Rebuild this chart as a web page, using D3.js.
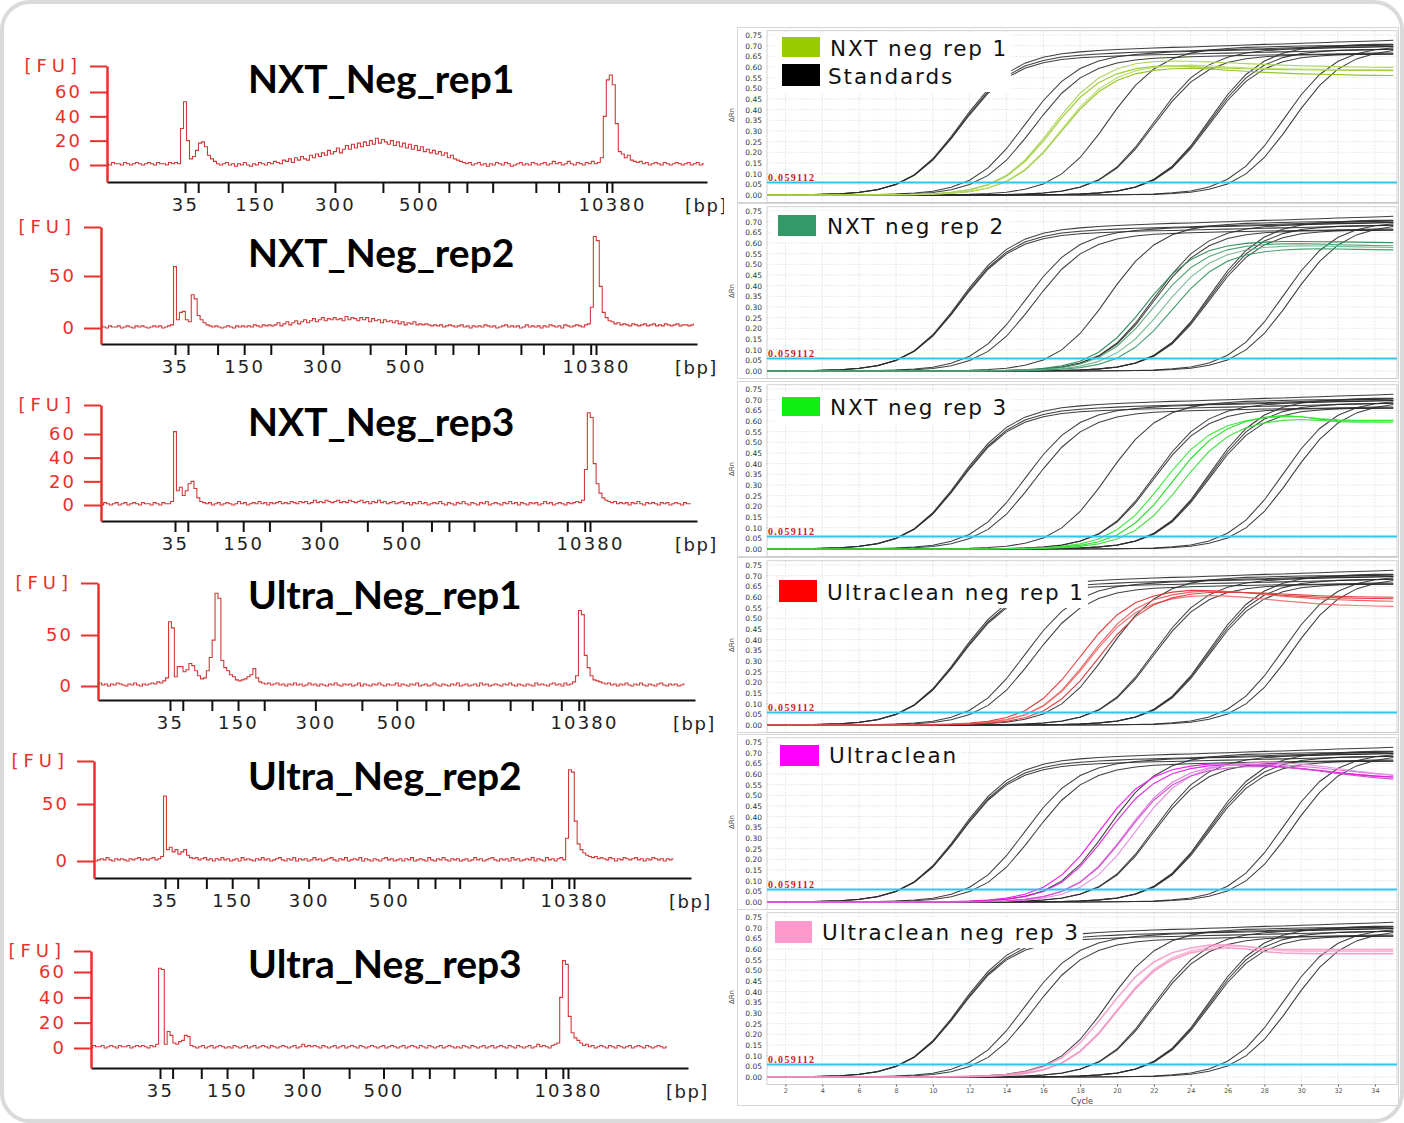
<!DOCTYPE html>
<html>
<head>
<meta charset="utf-8">
<script src="https://cdn.jsdelivr.net/npm/d3@7"></script>
<style>
  html, body { margin: 0; padding: 0; background: #fff; }
  svg { display: block; }
</style>
</head>
<body>
<svg id="fig" width="1404" height="1123"></svg>
<script>
// ---------------------------------------------------------------------------
// Bioanalyzer electropherograms (left column)
// ---------------------------------------------------------------------------
const epTitles = ["NXT_Neg_rep1", "NXT_Neg_rep2", "NXT_Neg_rep3",
                  "Ultra_Neg_rep1", "Ultra_Neg_rep2", "Ultra_Neg_rep3"];

// Ladder peaks: migration time (s) and the size labels printed under them
const ladderTimes  = [33.0, 35.2, 40.2, 44.7, 49.2, 58.0, 66.0, 72.0, 77.0, 80.0, 84.3, 91.5, 95.3, 100.3, 103.3, 104.2];
const ladderLabels = ["35", "", "", "150", "", "300", "", "500", "", "", "", "", "", "", "", "10380"];

// FU tick values of each electropherogram
const fuTicks = [[0, 20, 40, 60], [0, 50], [0, 20, 40, 60], [0, 50], [0, 50], [0, 20, 40, 60]];

// Fluorescence traces (FU), one sample every 0.5 s starting at 20 s
const traceStart = 20, traceStep = 0.5;
const traceNXT1 = [
  1,0,2,1,1,0,2,1,0,1, 2,1,0,1,2,1,0,2,1,1, 0,2,1,2,1,30,52,20,5,7, 12,18,19,15,8,5,3,1,0,1,
  2,0,1,-1,1,0,2,0,-1,1, 0,2,1,0,2,1,3,2,1,4, 3,5,2,6,4,7,5,4,8,6, 9,7,10,8,12,9,11,14,10,13,
  16,13,17,14,18,15,19,16,20,17, 22,18,21,19,17,20,16,19,15,18, 14,17,13,16,12,15,11,13,10,12, 9,11,8,10,6,8,5,4,3,2,
  1,2,0,1,2,0,1,-1,1,0, 2,1,0,2,1,-1,0,1,2,0, 1,0,2,1,0,1,2,0,1,3, 1,2,0,1,3,1,0,2,1,0,
  2,1,3,1,2,6,40,70,74,66, 34,11,9,6,8,4,3,2,3,1, 2,0,1,2,1,0,2,1,0,1, 2,1,0,1,2,0,1,2,0,1, 2,1,0,1];
const traceNXT2 = [
  1,2,1,0,2,1,1,2,0,1, 2,1,0,2,1,2,1,0,1,2, 1,2,0,1,2,3,59,8,15,16, 8,6,32,28,12,8,5,3,2,1,
  2,1,0,1,2,1,0,2,1,2, 1,2,1,3,2,1,3,2,3,2, 3,5,2,4,6,3,5,7,4,6, 8,5,7,9,6,8,10,7,9,8,
  10,8,9,7,11,8,10,9,7,10, 8,10,6,9,7,8,5,8,6,7, 5,7,4,6,3,5,4,6,3,4, 3,4,3,2,3,2,3,1,2,3,
  2,1,2,3,1,2,0,2,1,2, 1,3,2,1,2,0,1,2,3,1, 2,1,2,0,1,3,1,2,1,2, 0,2,1,3,2,1,2,0,3,2,
  1,2,3,2,1,3,4,20,88,84, 40,15,10,7,6,4,5,3,4,3, 2,4,3,2,3,4,2,3,4,2, 3,2,4,3,2,3,4,2,3,3, 2,3,4,2];
const traceNXT3 = [
  1,0,2,1,0,1,2,0,1,2, 0,1,2,1,0,2,1,1,0,2, 1,0,2,1,1,3,62,12,15,8, 12,18,20,14,6,3,2,1,2,0,
  1,2,0,1,2,1,0,1,3,1, 2,0,1,2,1,3,1,2,0,2, 1,2,3,1,2,1,3,2,1,3, 2,3,1,2,4,2,3,2,4,3,
  2,3,4,2,3,2,4,3,2,3, 4,2,3,1,3,2,4,2,3,1, 2,3,1,2,3,1,2,0,2,1, 3,1,2,0,1,2,1,3,1,0,
  2,1,0,2,1,3,1,0,2,1, 0,2,1,3,0,1,2,1,0,2, 1,3,1,2,0,2,1,0,2,1, 2,0,1,3,1,2,0,1,2,1,
  0,2,1,2,3,2,4,30,78,74, 35,18,10,6,4,3,2,3,1,2, 1,2,0,2,1,3,1,0,2,1, 2,1,0,2,1,2,0,1,2,1, 0,2,1,1];
const traceUltra1 = [
  2,1,3,1,2,0,2,1,3,2, 1,0,2,1,3,1,0,2,1,2, 3,2,4,3,5,8,63,57,9,19, 19,14,16,22,20,15,10,7,8,15,
  28,45,91,86,25,18,15,11,9,6, 5,6,7,9,11,17,8,4,3,2, 3,1,2,3,1,2,0,2,1,3, 1,2,0,1,3,1,2,0,2,1,
  0,2,1,3,1,0,2,1,2,0, 1,3,0,2,1,0,2,1,3,1, 0,2,1,1,3,0,2,1,0,2, 1,3,0,1,2,0,1,3,1,0,
  2,1,0,2,1,3,0,1,2,0, 1,2,0,3,1,2,0,1,2,1, 0,2,1,3,1,0,2,1,0,2, 1,0,3,1,2,1,0,2,3,1,
  2,0,3,1,2,4,10,74,70,30, 18,10,6,5,4,3,2,3,1,2, 0,2,1,3,1,0,2,1,3,1, 0,2,1,0,2,3,1,0,2,1, 2,0,1,2];
const traceUltra2 = [
  1,2,0,1,2,1,3,1,0,2, 1,2,1,0,2,1,2,3,1,2, 1,2,3,1,2,4,57,10,12,8, 10,6,8,10,5,3,2,3,1,2,
  3,1,2,0,2,1,3,1,2,0, 1,2,0,3,1,2,1,0,2,1, 3,1,2,0,1,2,3,1,0,2, 1,3,0,2,1,2,0,1,3,1,
  2,0,1,2,3,1,0,2,1,3, 0,1,2,1,3,0,2,1,0,2, 1,0,2,3,1,2,0,1,2,0, 2,1,3,0,1,2,1,0,3,1,
  0,2,1,3,1,0,2,1,2,0, 1,2,0,1,3,1,2,0,1,2, 3,1,0,2,1,2,0,3,1,2, 0,1,2,1,3,0,2,1,0,3,
  1,2,0,2,3,1,20,80,78,35, 15,10,7,5,4,3,4,2,3,2, 1,3,2,0,2,1,3,2,1,2, 3,1,2,0,2,1,3,2,1,2, 0,2,1,2];
const traceUltra3 = [
  2,1,0,2,1,1,2,0,1,2, 1,0,2,1,1,2,0,1,2,1, 2,1,0,2,1,3,63,62,3,13, 10,4,3,5,6,10,9,2,1,0,
  1,2,0,1,2,0,1,2,1,0, 1,0,2,1,0,1,2,0,1,2, 0,1,2,1,0,2,1,0,1,2, 1,0,1,2,0,1,3,1,2,1,
  2,1,0,2,1,0,1,2,0,1, 2,0,1,2,1,0,2,1,0,1, 2,1,0,1,2,0,1,2,1,0, 1,2,0,1,2,1,0,2,1,0,
  2,1,0,1,2,0,1,2,1,0, 1,0,2,1,0,2,1,0,1,2, 0,1,2,0,1,2,1,0,2,1, 0,2,1,0,1,2,0,1,3,1,
  2,1,0,2,3,4,40,69,66,25, 12,8,6,4,2,3,1,2,0,1, 2,1,0,2,1,0,2,1,0,1, 2,0,1,2,1,0,2,1,0,1, 2,1,0,1];
const epTraces = [traceNXT1, traceNXT2, traceNXT3, traceUltra1, traceUltra2, traceUltra3];

// ---------------------------------------------------------------------------
// qPCR amplification plots (right column); ΔRn values in thousandths, cycles 1-35
// ---------------------------------------------------------------------------
const cycles = [1,2,3,4,5,6,7,8,9,10,11,12,13,14,15,16,17,18,19,20,21,22,23,24,25,26,27,28,29,30,31,32,33,34,35];
const rnTicks = [0, 0.05, 0.10, 0.15, 0.20, 0.25, 0.30, 0.35, 0.40, 0.45, 0.50, 0.55, 0.60, 0.65, 0.70, 0.75];
const cycleTicks = [2, 4, 6, 8, 10, 12, 14, 16, 18, 20, 22, 24, 26, 28, 30, 32, 34];
const threshold = 0.059112;

// Standard dilution series (same plate standards shown in every plot)
const standards = [
  [0,1,1,3,6,13,25,49,93,166,268,382,484,557,605,631,647,655,661,665,669,671,674,676,679,681,684,686,689,691,694,696,699,701,704],
  [0,1,2,3,6,13,26,50,95,170,274,391,495,570,618,646,662,671,677,682,686,689,692,694,697,700,703,706,708,711,714,717,720,722,725],
  [0,1,1,3,6,12,25,49,92,163,264,376,477,549,594,620,635,643,648,652,655,657,659,661,663,665,667,669,671,673,675,677,679,681,683],
  [0,0,0,0,1,1,2,4,9,18,36,69,127,217,330,443,533,593,628,648,659,665,670,673,676,678,680,682,684,686,688,690,692,694,696],
  [0,0,0,0,0,1,1,3,6,12,25,49,92,163,264,376,477,549,593,619,633,641,645,648,650,653,654,656,657,659,660,662,663,665,666],
  [0,0,0,0,0,0,0,0,0,1,2,3,7,13,27,52,99,176,284,406,514,591,639,665,680,687,692,694,696,698,699,700,701,702,703],
  [0,0,0,0,0,0,0,0,0,0,0,1,1,2,5,9,19,37,71,131,224,340,456,549,610,646,666,676,682,687,689,691,693,695,696],
  [0,0,0,0,0,0,0,0,0,0,0,1,1,2,4,9,18,36,69,126,215,328,440,529,587,621,639,648,653,656,657,658,659,659,660],
  [0,0,0,0,0,0,0,0,0,0,0,0,0,0,1,1,2,5,10,19,38,74,135,230,350,470,565,628,664,684,694,700,704,706,707],
  [0,0,0,0,0,0,0,0,0,0,0,0,0,0,1,1,2,5,9,19,37,71,131,224,340,456,549,609,644,663,672,678,681,682,683],
  [0,0,0,0,0,0,0,0,0,0,0,0,0,0,1,1,2,4,9,18,36,69,127,217,330,443,533,591,625,643,652,657,660,661,661],
  [0,0,0,0,0,0,0,0,0,0,0,0,0,0,0,0,0,0,1,1,2,5,10,19,38,74,135,230,350,470,565,627,662,681,690],
  [0,0,0,0,0,0,0,0,0,0,0,0,0,0,0,0,0,0,0,1,2,3,7,13,27,52,99,176,284,406,514,591,638,663,677]
];

// Negative-control library replicates, one group per plot
const nxtRep1 = [
  [0,0,0,0,0,0,1,1,3,6,12,24,47,88,157,253,362,458,526,568,591,603,605,602,598,595,592,590,588,587,586,585,584,584,583],
  [0,0,0,0,0,0,1,1,3,6,12,25,49,92,163,264,376,477,548,591,615,625,628,627,624,620,616,612,609,606,604,602,600,599,598],
  [0,0,0,0,0,0,0,1,2,4,8,16,33,63,116,197,300,403,484,537,568,584,592,594,591,585,580,575,571,568,566,564,562,561,560],
  [0,0,0,0,0,0,0,1,2,4,8,17,33,65,119,202,308,413,496,550,582,598,606,609,606,600,596,593,591,590,589,588,588,587,587]
];
const nxtRep2 = [
  [0,0,0,0,0,0,0,0,0,0,0,1,1,3,6,12,24,46,88,156,251,359,454,522,564,586,598,604,607,607,606,605,604,603,602],
  [0,0,0,0,0,0,0,0,0,0,0,0,1,2,4,8,16,33,63,116,197,300,403,484,537,568,584,592,596,597,595,592,590,588,587],
  [0,0,0,0,0,0,0,0,0,0,0,0,1,1,3,6,11,23,45,85,150,243,347,440,505,545,567,579,584,587,586,584,582,580,579],
  [0,0,0,0,0,0,0,0,0,0,0,0,0,1,2,4,8,16,31,60,111,189,288,386,464,515,544,559,567,571,573,572,570,569,568]
];
const nxtRep3 = [
  [0,0,0,0,0,0,0,0,0,0,0,0,0,1,2,4,9,17,34,66,122,207,315,423,508,564,598,617,625,620,608,602,600,600,601],
  [0,0,0,0,0,0,0,0,0,0,0,0,1,1,3,6,12,24,47,90,159,258,368,466,535,578,601,615,622,620,611,605,603,603,603],
  [0,0,0,0,0,0,0,0,0,0,0,0,0,1,1,3,6,12,24,47,88,157,253,362,458,526,568,591,603,607,603,597,595,594,594]
];
const ultraRep1 = [
  [0,0,0,0,0,0,0,0,1,2,4,9,17,35,67,124,211,320,429,516,573,605,623,631,630,626,620,614,608,603,599,596,594,593,592],
  [0,0,0,0,0,0,0,0,1,1,3,6,12,25,48,91,162,262,373,473,544,587,610,623,628,626,620,612,604,597,591,587,584,582,580],
  [0,0,0,0,0,0,0,0,0,1,3,6,12,24,47,88,157,253,362,458,526,568,591,603,607,604,598,590,582,575,568,563,560,558,556],
  [0,0,0,0,0,0,0,0,0,1,2,4,9,17,34,66,122,207,315,423,508,564,596,613,621,623,621,618,614,610,606,603,601,600,599]
];
const ultraRep2 = [
  [0,0,0,0,0,0,0,0,0,1,2,4,9,18,36,69,126,215,328,440,529,586,620,637,646,648,645,640,633,624,614,604,596,590,585],
  [0,0,0,0,0,0,0,0,0,1,1,3,6,13,25,49,93,166,268,382,484,556,601,625,638,643,643,640,634,626,617,607,598,591,586],
  [0,0,0,0,0,0,0,0,0,0,1,2,3,6,13,25,50,94,167,270,385,488,561,605,629,640,645,645,642,636,628,619,610,601,594],
  [0,0,0,0,0,0,0,0,0,0,0,1,2,4,9,18,36,69,127,217,330,443,533,591,624,642,651,654,652,646,637,626,614,603,595],
  [0,0,0,0,0,0,0,0,0,0,1,1,3,6,12,25,49,92,163,264,376,477,548,591,615,628,634,635,632,625,615,603,592,583,576]
];
const ultraRep3 = [
  [0,0,0,0,0,0,0,0,0,1,1,3,6,12,24,48,90,161,260,370,469,539,582,605,618,620,612,602,598,597,597,597,597,597,597],
  [0,0,0,0,0,0,0,0,0,0,1,2,4,9,17,34,66,121,206,313,419,504,559,591,608,616,612,600,592,590,589,589,589,589,589],
  [0,0,0,0,0,0,0,0,0,0,1,2,4,8,17,33,65,119,202,308,413,496,550,582,598,606,600,588,581,579,578,578,578,578,578]
];
const sampleGroups = [nxtRep1, nxtRep2, nxtRep3, ultraRep1, ultraRep2, ultraRep3];

const legendLabels = [["NXT neg rep 1", "Standards"], ["NXT neg rep 2"], ["NXT neg rep 3"],
                      ["Ultraclean neg rep 1"], ["Ultraclean"], ["Ultraclean neg rep 3"]];

// ---------------------------------------------------------------------------
// Styling and placement
// ---------------------------------------------------------------------------
const RED = "#e8302c";
const TICK_FONT = "'DejaVu Sans', Verdana, sans-serif";
const TITLE_FONT = "Lato, 'Open Sans', sans-serif";

const legendColors = [["#99cc00", "#000000"], ["#339966"], ["#11ee11"], ["#ff0000"], ["#ff00ff"], ["#ff99cc"]];
const sampleStrokes = [
  ["#9ccc2c", "#aed35a", "#8fc21e", "#b8dc6a"],
  ["#2f8a5c", "#4fa277", "#74b993", "#3c9a6a"],
  ["#22dd22", "#33e833", "#44dd44"],
  ["#e53030", "#ee5a5a", "#f07070", "#d93c3c"],
  ["#ee11ee", "#dd22dd", "#e070e0", "#e58ce5", "#d04cd0"],
  ["#f592c4", "#f7a6cf", "#f08cbd"]
];

const epLayout = [
  {axisX: 107, x35: 185, x10380: 612, xEnd: 707, top: 66,  axisY: 182,  y0: 165,  yRef: 92,  titleY: 93},
  {axisX: 101, x35: 175, x10380: 596, xEnd: 697, top: 227, axisY: 344,  y0: 328,  yRef: 276, titleY: 267},
  {axisX: 101, x35: 175, x10380: 590, xEnd: 697, top: 405, axisY: 521,  y0: 505,  yRef: 434, titleY: 436},
  {axisX: 98,  x35: 170, x10380: 584, xEnd: 695, top: 583, axisY: 700,  y0: 686,  yRef: 635, titleY: 609},
  {axisX: 94,  x35: 165, x10380: 574, xEnd: 691, top: 761, axisY: 878,  y0: 861,  yRef: 804, titleY: 790},
  {axisX: 91,  x35: 160, x10380: 568, xEnd: 688, top: 951, axisY: 1068, y0: 1048, yRef: 972, titleY: 978}
];

const qLayout = [
  {y0: 195,  bx: 782, by: 37,  bw: 38, bh: 20, tx: 830, ty: 56},
  {y0: 371,  bx: 778, by: 215, bw: 38, bh: 21, tx: 827, ty: 234},
  {y0: 549,  bx: 782, by: 397, bw: 38, bh: 19, tx: 830, ty: 415},
  {y0: 725,  bx: 779, by: 580, bw: 38, bh: 22, tx: 827, ty: 600},
  {y0: 902,  bx: 780, by: 745, bw: 39, bh: 21, tx: 829, ty: 763},
  {y0: 1077, bx: 775, by: 921, bw: 37, bh: 22, tx: 822, ty: 940}
];

const svg = d3.select("#fig");
svg.append("rect").attr("width", 1404).attr("height", 1123).attr("fill", "#fff");
const defs = svg.append("defs");

// ---------------------------------------------------------------------------
// Electropherograms
// ---------------------------------------------------------------------------
epLayout.forEach((L, k) => {
  const g = svg.append("g");

  const xs = d3.scaleLinear()
    .domain([ladderTimes[0], ladderTimes[ladderTimes.length - 1]])
    .range([L.x35, L.x10380]);
  const x = d3.scaleLinear().domain([xs.invert(L.axisX), xs.invert(L.xEnd)]).range([L.axisX, L.xEnd]);

  const ticks = fuTicks[k];
  const ys = d3.scaleLinear().domain([0, ticks[ticks.length - 1]]).range([L.y0, L.yRef]);
  const y = d3.scaleLinear().domain([ys.invert(L.axisY), ys.invert(L.top)]).range([L.axisY, L.top]);

  // sample name
  g.append("text")
    .attr("x", 248).attr("y", L.titleY)
    .attr("font-family", TITLE_FONT).attr("font-weight", 700).attr("font-size", 39)
    .attr("fill", "#000")
    .text(epTitles[k]);

  // trace
  const clipId = "ep-clip-" + k;
  defs.append("clipPath").attr("id", clipId).append("rect")
    .attr("x", L.axisX + 1).attr("y", L.top - 20)
    .attr("width", L.xEnd - L.axisX - 4).attr("height", L.axisY - L.top + 18);
  const line = d3.line()
    .x((v, i) => x(traceStart + i * traceStep))
    .y(v => y(v))
    .curve(d3.curveStep);
  g.append("path")
    .datum(epTraces[k])
    .attr("d", line)
    .attr("clip-path", `url(#${clipId})`)
    .attr("fill", "none")
    .attr("stroke", "#d23a3a")
    .attr("stroke-width", 1.1);

  // size axis
  const ax = g.append("g")
    .attr("transform", `translate(0,${L.axisY})`)
    .call(d3.axisBottom(x)
      .tickValues(ladderTimes)
      .tickFormat((d, i) => ladderLabels[i])
      .tickSizeInner(11).tickSizeOuter(0).tickPadding(5));
  ax.attr("color", "#111").attr("font-family", TICK_FONT).attr("font-size", 18);
  ax.select(".domain").attr("stroke-width", 2);
  ax.selectAll(".tick line").attr("stroke-width", 2);
  ax.selectAll(".tick text").attr("fill", "#222").style("letter-spacing", "2.2px");

  g.append("text")
    .attr("x", L.xEnd - 22).attr("y", L.axisY + 30)
    .attr("font-family", TICK_FONT).attr("font-size", 18)
    .style("letter-spacing", "1.5px")
    .attr("fill", "#222")
    .text("[bp]");

  // fluorescence axis
  const yt = ticks.concat([y.domain()[1]]);
  const ay = g.append("g")
    .attr("transform", `translate(${L.axisX},0)`)
    .call(d3.axisLeft(y)
      .tickValues(yt)
      .tickFormat((d, i) => i < ticks.length ? String(d) : "[FU]")
      .tickSizeInner(17).tickSizeOuter(0).tickPadding(8));
  ay.attr("color", RED).attr("font-family", TICK_FONT).attr("font-size", 18);
  ay.select(".domain").attr("stroke-width", 2.5);
  ay.selectAll(".tick line").attr("stroke-width", 2);
  ay.selectAll(".tick text").style("letter-spacing", "2px");
  ay.selectAll(".tick text").filter((d, i) => i === ticks.length).style("letter-spacing", "5px");
});

// ---------------------------------------------------------------------------
// Amplification plots
// ---------------------------------------------------------------------------
const xC = d3.scaleLinear().domain([1, 35.2]).range([767, 1397]);

qLayout.forEach((P, k) => {
  const y = d3.scaleLinear().domain([0, 0.75]).range([P.y0, P.y0 - 160]);
  const last = k === qLayout.length - 1;
  const top = P.y0 - 168;
  const bottom = last ? 1106 : P.y0 + 8;
  const pTop = y(0.77), pBot = y(-0.035);
  const g = svg.append("g");

  g.append("rect").attr("x", 724).attr("y", top).attr("width", 676).attr("height", bottom - top).attr("fill", "#fff");
  g.append("rect").attr("x", 737.5).attr("y", top + 0.5).attr("width", 661).attr("height", bottom - top - 1)
    .attr("fill", "none").attr("stroke", "#d6d6d6");

  // dotted grid
  g.append("g").selectAll("line").data(rnTicks).join("line")
    .attr("x1", xC.range()[0]).attr("x2", xC.range()[1])
    .attr("y1", d => y(d)).attr("y2", d => y(d))
    .attr("stroke", "#d9d9d9").attr("stroke-width", 0.8).attr("stroke-dasharray", "1.5,1.5");
  g.append("g").selectAll("line").data(cycleTicks).join("line")
    .attr("x1", d => xC(d)).attr("x2", d => xC(d))
    .attr("y1", pTop).attr("y2", pBot)
    .attr("stroke", "#d9d9d9").attr("stroke-width", 0.8).attr("stroke-dasharray", "1.5,1.5");

  g.append("rect").attr("x", xC.range()[0]).attr("y", pTop)
    .attr("width", xC.range()[1] - xC.range()[0]).attr("height", pBot - pTop)
    .attr("fill", "none").attr("stroke", "#c6c6c6").attr("stroke-width", 0.8);

  // ΔRn axis labels
  const ay = g.append("g")
    .attr("transform", `translate(${xC.range()[0]},0)`)
    .call(d3.axisLeft(y).tickValues(rnTicks).tickFormat(d3.format(".2f")).tickSize(0).tickPadding(5));
  ay.select(".domain").remove();
  ay.attr("color", "#333").attr("font-family", TICK_FONT).attr("font-size", 7.5);

  g.append("text")
    .attr("transform", `translate(734,${P.y0 - 80}) rotate(-90)`)
    .attr("text-anchor", "middle")
    .attr("font-family", TICK_FONT).attr("font-size", 7).attr("fill", "#444")
    .text("ΔRn");

  if (last) {
    const ax = g.append("g")
      .attr("transform", `translate(0,${pBot})`)
      .call(d3.axisBottom(xC).tickValues(cycleTicks).tickSize(2).tickPadding(1.5));
    ax.select(".domain").remove();
    ax.attr("color", "#555").attr("font-family", TICK_FONT).attr("font-size", 6.5);
    g.append("text")
      .attr("x", (xC.range()[0] + xC.range()[1]) / 2).attr("y", pBot + 19.5)
      .attr("text-anchor", "middle")
      .attr("font-family", TICK_FONT).attr("font-size", 8).attr("fill", "#444")
      .text("Cycle");
  }

  // curves
  const clipId = "q-clip-" + k;
  defs.append("clipPath").attr("id", clipId).append("rect")
    .attr("x", xC.range()[0]).attr("y", pTop)
    .attr("width", xC.range()[1] - xC.range()[0]).attr("height", pBot - pTop);
  const curve = d3.line()
    .x((v, i) => xC(cycles[i]))
    .y(v => y(v / 1000));
  const plot = g.append("g").attr("clip-path", `url(#${clipId})`);

  plot.selectAll("path.std").data(standards).join("path")
    .attr("class", "std")
    .attr("d", curve)
    .attr("fill", "none").attr("stroke", "#2a2a2a").attr("stroke-width", 1.05).attr("stroke-opacity", 0.9);

  const strokes = sampleStrokes[k];
  plot.selectAll("path.smp").data(sampleGroups[k]).join("path")
    .attr("class", "smp")
    .attr("d", curve)
    .attr("fill", "none")
    .attr("stroke", (d, i) => strokes[i % strokes.length])
    .attr("stroke-width", k === 5 ? 1.6 : 1.15)
    .attr("stroke-opacity", k === 5 ? 0.8 : 0.95);

  // threshold
  g.append("line")
    .attr("x1", xC.range()[0]).attr("x2", xC.range()[1])
    .attr("y1", y(threshold)).attr("y2", y(threshold))
    .attr("stroke", "#2ec6ee").attr("stroke-width", 2);
  g.append("text")
    .attr("x", xC.range()[0] + 1).attr("y", y(threshold) - 1.5)
    .attr("font-family", "'Liberation Serif', 'DejaVu Serif', serif").attr("font-weight", 700)
    .attr("font-size", 10).attr("fill", "#d01818")
    .style("letter-spacing", "1.3px")
    .text(threshold.toString());

  // legend
  const lg = g.append("g");
  const bg = lg.append("rect").attr("fill", "#fff");
  legendLabels[k].forEach((lab, j) => {
    lg.append("rect")
      .attr("x", P.bx).attr("y", P.by + j * 27)
      .attr("width", P.bw).attr("height", P.bh + (j ? 2 : 0))
      .attr("fill", legendColors[k][j]);
    lg.append("text")
      .attr("x", P.tx - (j ? 2 : 0)).attr("y", P.ty + j * 28)
      .attr("font-family", TICK_FONT).attr("font-size", 21.5)
      .style("letter-spacing", "1.9px")
      .attr("fill", "#111")
      .text(lab);
  });
  const bb = lg.node().getBBox();
  bg.attr("x", bb.x - 7).attr("y", bb.y - 3).attr("width", bb.width + 10).attr("height", bb.height + 6);
});

// rounded outer frame
svg.append("rect")
  .attr("x", 2).attr("y", 2).attr("width", 1400).attr("height", 1119)
  .attr("rx", 28).attr("ry", 28)
  .attr("fill", "none").attr("stroke", "#dadada").attr("stroke-width", 4);
</script>
</body>
</html>
